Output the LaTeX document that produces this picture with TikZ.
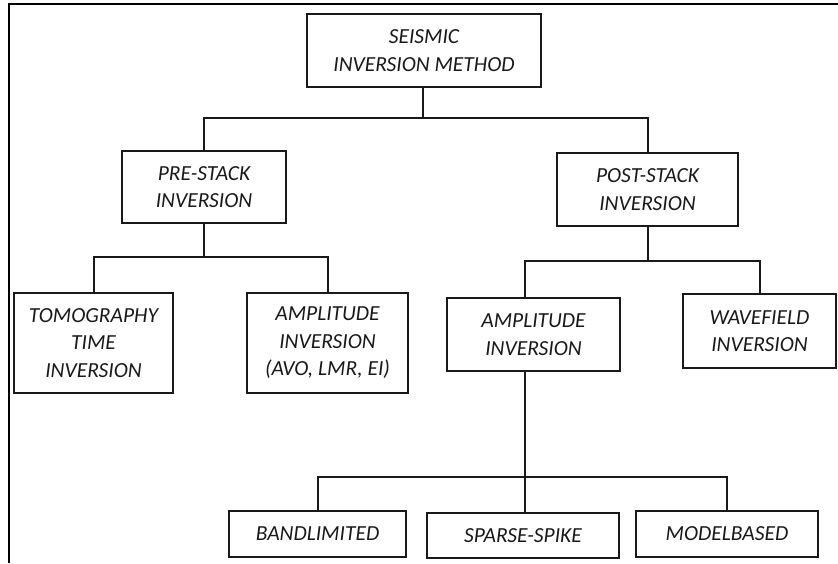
\documentclass[tikz,border=0pt]{standalone}
\usepackage{fontspec}
\setmainfont{Carlito}
\begin{document}
\begin{tikzpicture}[x=1pt,y=-1pt,
  box/.style={draw=black!90, line width=2pt, align=center, inner sep=0pt,
    text=black!90, font=\fontsize{21.5}{27.5}\selectfont\itshape},
  conn/.style={draw=black!90, line width=2pt}]
\useasboundingbox (0,0) rectangle (838,563);
\draw[line width=2.2pt] (9,563) -- (9,4) -- (838,4);
% nodes
\node[box, minimum width=234pt, minimum height=73pt] (seis) at (424,50.5) {SEISMIC\\INVERSION METHOD};
\node[box, minimum width=164pt, minimum height=72pt] (pre) at (204,187) {PRE-STACK\\INVERSION};
\node[box, minimum width=181pt, minimum height=73pt] (post) at (647.5,189.5) {POST-STACK\\INVERSION};
\node[box, minimum width=159pt, minimum height=100pt] (tomo) at (93.5,343) {TOMOGRAPHY\\TIME\\INVERSION};
\node[box, minimum width=161pt, minimum height=100pt] (avo) at (327.5,343) {AMPLITUDE\\INVERSION\\(AVO, LMR, EI)};
\node[box, minimum width=173pt, minimum height=73pt] (amp) at (533.5,334.5) {AMPLITUDE\\INVERSION};
\node[box, minimum width=153pt, minimum height=74pt] (wave) at (759.5,331) {WAVEFIELD\\INVERSION};
\node[box, minimum width=177pt, minimum height=46pt] (band) at (317.5,534) {BANDLIMITED};
\node[box, minimum width=192pt, minimum height=45pt] (sparse) at (523,535.5) {SPARSE-SPIKE};
\node[box, minimum width=182pt, minimum height=46pt] (model) at (727,534) {MODELBASED};
% junction coordinates
\coordinate (j1) at (423,118);
\coordinate (h2) at (0,257);
\coordinate (h3) at (0,261);
\coordinate (a3) at (525,0);
\coordinate (h4) at (0,477);
% connectors
\draw[conn] (j1 |- seis.south) -- (j1);
\draw[conn] (pre.north) -- (pre.north |- j1) -- (post.north |- j1) -- (post.north);
\draw[conn] (pre.south) -- (pre.south |- h2);
\draw[conn] (tomo.north) -- (tomo.north |- h2) -- (avo.north |- h2) -- (avo.north);
\draw[conn] (post.south) -- (post.south |- h3);
\draw[conn] (a3 |- amp.north) -- (a3 |- h3) -- (wave.north |- h3) -- (wave.north);
\draw[conn] (a3 |- amp.south) -- (a3 |- sparse.north);
\draw[conn] (band.north) -- (band.north |- h4) -- (model.north |- h4) -- (model.north);
\end{tikzpicture}
\end{document}
